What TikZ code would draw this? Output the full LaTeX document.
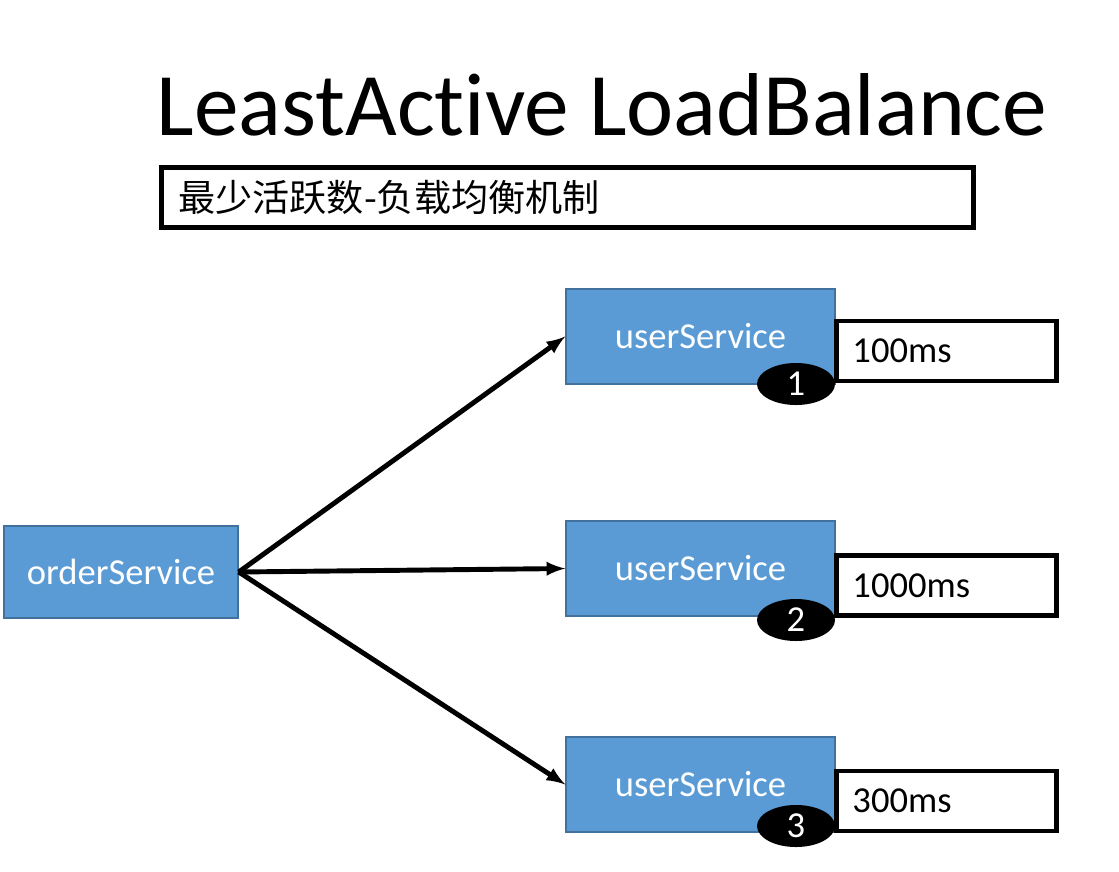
\documentclass[tikz,border=0pt]{standalone}
\usepackage{fontspec}
\usepackage{xcolor}
\usepackage{tikz}
\usetikzlibrary{arrows}
\usetikzlibrary{positioning}
\usetikzlibrary{shapes.geometric}
\setmainfont{Carlito}[Ligatures={NoCommon}]
\newfontfamily\cjk{Noto Sans CJK SC}
\definecolor{svcblue}{HTML}{5B9BD5}
\definecolor{svcedge}{HTML}{41719C}
\tikzset{
  svc/.style={draw=svcedge, fill=svcblue, line width=1pt, text=white,
    minimum width=6.725cm, minimum height=2.375cm, font=\fontsize{26}{30}\selectfont},
  timebox/.style={draw=black, line width=3.4pt, fill=white, inner xsep=0.4cm,
    text width=4.7cm, align=left, minimum height=1.5cm, font=\fontsize{26}{30}\selectfont},
  badge/.style={ellipse, fill=black, text=white, inner sep=0pt,
    minimum width=1.95cm, minimum height=1.05cm, font=\fontsize{26}{30}\selectfont},
}
\begin{document}
\begin{tikzpicture}[x=0.025cm, y=-0.025cm, >=latex]
\useasboundingbox (0,0) rectangle (1119,871);
\node at (602,105) (title) {\fontsize{63.5}{76}\selectfont LeastAct\kern0pt ive LoadBalance};
\node[draw, line width=3.4pt, minimum width=20.3cm, minimum height=1.5cm,
  text width=19.45cm, inner xsep=0.425cm, align=left] at (567.5,197.5) (sub)
  {\cjk\fontsize{26.4}{30}\selectfont 最少活跃数-负载均衡机制};
% services
\node[svc, minimum width=5.85cm, minimum height=2.3cm] at (121,572) (order) {orderService};
\node[svc] at (700.5,336.5) (user1) {userService};
\node[svc] at (700.5,568.5) (user2) {userService};
\node[svc] at (700.5,784.5) (user3) {userService};
% response times
\node[timebox] at (946.5,351) (t1) {100ms};
\node[timebox] at (946.5,585.5) (t2) {1000ms};
\node[timebox] at (946.5,801) (t3) {300ms};
\node[badge] at (796,384) (b1) {1};
\node[badge] at (796,620) (b2) {2};
\node[badge] at (796,826) (b3) {3};
\path[->, line width=3.5pt] (order.east) edge (user1.west);
\path[->, line width=3.5pt] (order.east) edge (user2.west);
\path[->, line width=3.5pt] (order.east) edge (user3.west);
\end{tikzpicture}
\end{document}
